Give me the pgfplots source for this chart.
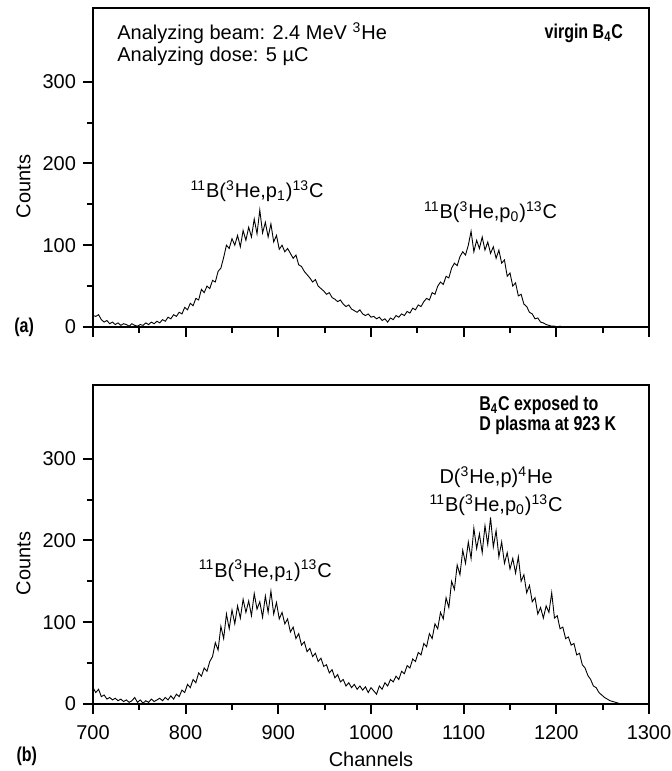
\documentclass[border=0pt]{standalone}
\usepackage{fontspec}
\setmainfont{Liberation Sans}
\newfontfamily\nbf{Liberation Sans Bold}[FakeStretch=0.8]
\usepackage{pgfplots}
\usepackage{pgfplotstable}
\pgfplotsset{compat=1.18}

% channel counts, virgin B4C
\pgfplotstableread{
ch cnt
700 14
703 13
706 15
709 9
712 6
715 8
718 4
721 6
724 3
727 5
730 2
733 4
736 3
739 1
742 4
745 2
748 1
751 3
754 2
757 5
760 3
763 6
766 4
769 7
772 5
775 9
778 7
781 12
784 10
787 15
790 13
793 18
796 16
799 24
802 21
805 29
808 26
811 35
814 33
817 46
820 42
823 50
826 47
829 57
832 55
835 68
838 72
841 85
844 100
847 96
850 108
853 100
856 112
859 98
862 118
865 106
868 122
871 110
874 132
877 114
880 143
883 115
886 128
889 110
892 126
895 104
898 112
901 95
904 100
907 92
910 96
913 90
916 84
919 88
922 76
925 74
928 68
931 64
934 60
937 55
940 58
943 50
946 47
949 44
952 40
955 42
958 36
961 34
964 31
967 33
970 28
973 25
976 27
979 22
982 20
985 18
988 21
991 16
994 14
997 16
1000 12
1003 13
1006 10
1009 12
1012 8
1015 10
1018 6
1021 11
1024 9
1027 14
1030 12
1033 16
1036 14
1039 19
1042 17
1045 23
1048 21
1051 27
1054 25
1057 31
1060 35
1063 33
1066 42
1069 40
1072 50
1075 55
1078 52
1081 62
1084 60
1087 72
1090 78
1093 75
1096 86
1099 92
1102 88
1105 100
1108 117
1111 92
1114 106
1117 96
1120 110
1123 94
1126 104
1129 90
1132 98
1135 84
1138 94
1141 78
1144 82
1147 62
1150 66
1153 50
1156 54
1159 38
1162 40
1165 28
1168 25
1171 18
1174 16
1177 10
1180 11
1183 6
1186 5
1189 3
1192 2
1195 1
1198 1
1201 0
1204 1
1207 0
1210 0
}\virgin

% channel counts, B4C after D plasma
\pgfplotstableread{
ch cnt
700 20
703 14
706 18
709 9
712 11
715 6
718 8
721 5
724 7
727 4
730 6
733 3
736 5
739 2
742 4
745 8
748 2
751 5
754 1
757 4
760 2
763 6
766 3
769 5
772 7
775 4
778 8
781 5
784 10
787 6
790 12
793 9
796 17
799 14
802 24
805 20
808 30
811 26
814 38
817 34
820 44
823 40
826 52
829 58
832 75
835 66
838 95
841 80
844 110
847 92
850 115
853 98
856 120
859 105
862 128
865 112
868 126
871 108
874 135
877 116
880 125
883 106
886 132
889 112
892 138
895 110
898 124
901 104
904 112
907 98
910 104
913 88
916 94
919 80
922 86
925 72
928 76
931 64
934 68
937 58
940 62
943 52
946 56
949 46
952 48
955 38
958 42
961 32
964 36
967 27
970 30
973 22
976 26
979 20
982 24
985 18
988 22
991 17
994 21
997 14
1000 20
1003 16
1006 12
1009 22
1012 18
1015 26
1018 22
1021 30
1024 27
1027 34
1030 30
1033 40
1036 37
1039 47
1042 44
1045 55
1048 52
1051 63
1054 60
1057 74
1060 70
1063 86
1066 80
1069 98
1072 92
1075 112
1078 104
1081 130
1084 118
1087 150
1090 140
1093 170
1096 158
1099 188
1102 172
1105 198
1108 178
1111 215
1114 190
1117 208
1120 185
1123 218
1126 195
1129 228
1132 192
1135 212
1138 180
1141 198
1144 172
1147 185
1150 165
1153 178
1156 160
1159 180
1162 150
1165 158
1168 136
1171 145
1174 125
1177 130
1180 110
1183 118
1186 105
1189 120
1192 112
1195 136
1198 105
1201 108
1204 92
1207 94
1210 80
1213 82
1216 72
1219 74
1222 60
1225 62
1228 48
1231 44
1234 35
1237 30
1240 22
1243 20
1246 14
1249 11
1252 8
1255 6
1258 4
1261 3
1264 2
1267 1
1270 0
}\exposed

\pgfplotsset{
  spec/.style={
    width=278pt, height=159.5pt, scale only axis, clip=false,
    xmin=700, xmax=1300, ymin=0, ymax=390,
    xtick={700,800,...,1300}, minor x tick num=1,
    ytick={0,100,200,300}, minor y tick num=1,
    tick align=outside, xtick pos=lower, ytick pos=left,
    axis line style={line width=1pt},
    every tick/.style={line width=1pt, black},
    major tick length=5pt, minor tick length=3pt,
    font=\fontsize{10}{12}\selectfont,
    /pgf/number format/assume math mode=true,
    /pgf/number format/set thousands separator={},
    xticklabel style={yshift=-2pt},
    ylabel=Counts,
    ylabel style={at={(axis description cs:-0.125,0.44)}, anchor=center},
  },
  spectrum/.style={black, line width=0.45pt, mark=none},
}
\tikzset{boldlab/.style={font=\fontsize{10}{12}\nbf}}

\newcommand{\rx}[1]{\textsuperscript{11}B(\textsuperscript{3}He,p\textsubscript{#1})\textsuperscript{13}C}

\begin{document}
\begin{tikzpicture}
\begin{axis}[spec, at={(0,0)}, anchor=north west, xticklabels={}]
  \addplot[spectrum] table[x=ch, y=cnt] {\virgin};
  \node[anchor=west] at (rel axis cs:0.031,0.922) {Analyzing beam: 2.4 MeV \textsuperscript{3}He};
  \node[anchor=west] at (rel axis cs:0.031,0.847) {Analyzing dose: 5 µC};
  \node[anchor=east, boldlab] at (rel axis cs:0.966,0.922) {virgin B\textsubscript{4}C};
  \node at (axis cs:877,166) {\rx{1}};
  \node at (axis cs:1129,140) {\rx{0}};
  \node[boldlab] at (rel axis cs:-0.124,0) {(a)};
\end{axis}

\begin{axis}[spec, at={(0,-188.5pt)}, anchor=north west,
  xlabel=Channels,
  xlabel style={at={(axis description cs:0.5,-0.172)}, anchor=center}]
  \addplot[spectrum] table[x=ch, y=cnt] {\exposed};
  \node[anchor=west, boldlab] at (rel axis cs:0.682,0.937) {B\textsubscript{4}C exposed to};
  \node[anchor=west, boldlab] at (rel axis cs:0.682,0.874) {D plasma at 923 K};
  \node at (axis cs:1135,277) {D(\textsuperscript{3}He,p)\textsuperscript{4}He};
  \node at (axis cs:1135,243) {\rx{0}};
  \node at (axis cs:886,163) {\rx{1}};
  \node[boldlab] at (rel axis cs:-0.119,-0.164) {(b)};
\end{axis}

\pgfresetboundingbox
\path[use as bounding box] (-46.5pt,4pt) rectangle (289.5pt,-381.5pt);
\end{tikzpicture}
\end{document}
